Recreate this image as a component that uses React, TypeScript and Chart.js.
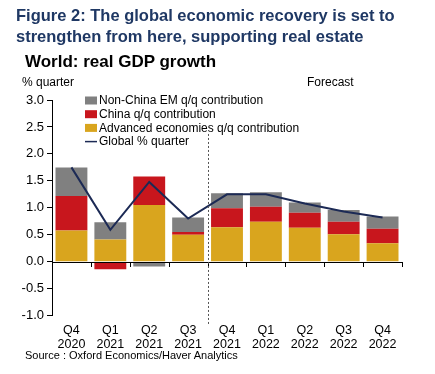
import React, { useEffect, useRef } from "react";
import { Chart, registerables } from "chart.js";

Chart.register(...registerables);

const categories: string[][] = [
  ["Q4", "2020"], ["Q1", "2021"], ["Q2", "2021"], ["Q3", "2021"], ["Q4", "2021"],
  ["Q1", "2022"], ["Q2", "2022"], ["Q3", "2022"], ["Q4", "2022"],
];
const advancedContribution = [0.58, 0.41, 1.05, 0.5, 0.64, 0.74, 0.63, 0.51, 0.34];
const chinaContribution = [0.64, -0.14, 0.53, 0.05, 0.35, 0.28, 0.28, 0.23, 0.27];
const nonChinaEmContribution = [0.53, 0.32, -0.09, 0.27, 0.28, 0.27, 0.19, 0.22, 0.23];
const globalGrowth = [1.75, 0.59, 1.48, 0.8, 1.25, 1.25, 1.08, 0.93, 0.82];
const forecastStartIndex = 4;

const FONT = "'Liberation Sans', Arial, sans-serif";
const GREY = "#808080";
const RED = "#c8161d";
const GOLD = "#d9a51e";
const NAVY = "#1c2a55";

const extrasPlugin = {
  id: "extras",
  afterDatasetsDraw(chart: any) {
    const { ctx, chartArea, scales } = chart;
    const xs = scales.x;
    const ys = scales.y;
    const y0 = ys.getPixelForValue(0);
    const n = categories.length;
    const step = (chartArea.right - chartArea.left) / n;
    ctx.save();
    // zero line
    ctx.strokeStyle = "#000";
    ctx.lineWidth = 1;
    ctx.beginPath();
    ctx.moveTo(chartArea.left, Math.round(y0) + 0.5);
    ctx.lineTo(chartArea.right, Math.round(y0) + 0.5);
    ctx.stroke();
    // category boundary ticks
    for (let k = 1; k <= n; k++) {
      const bx = Math.round(chartArea.left + k * step) + 0.5;
      ctx.beginPath();
      ctx.moveTo(bx, Math.round(y0));
      ctx.lineTo(bx, Math.round(y0) + 5);
      ctx.stroke();
    }
    // forecast divider
    const dx = Math.round((xs.getPixelForValue(forecastStartIndex - 1) + xs.getPixelForValue(forecastStartIndex)) / 2) + 0.5;
    ctx.strokeStyle = "#555";
    ctx.setLineDash([2, 2]);
    ctx.beginPath();
    ctx.moveTo(dx, ys.getPixelForValue(2.37));
    ctx.lineTo(dx, chartArea.bottom + 10);
    ctx.stroke();
    ctx.setLineDash([]);
    // legend
    const order = [2, 1, 0, 3];
    const lx = 85;
    const ly = 100.5;
    const gap = 13.7;
    ctx.font = `12px ${FONT}`;
    ctx.textBaseline = "middle";
    ctx.textAlign = "left";
    order.forEach((di, r) => {
      const ds = chart.data.datasets[di];
      const cy = ly + r * gap;
      if (ds.type === "line") {
        ctx.strokeStyle = ds.borderColor;
        ctx.lineWidth = 1.5;
        ctx.beginPath();
        ctx.moveTo(lx, cy);
        ctx.lineTo(lx + 12, cy);
        ctx.stroke();
      } else {
        ctx.fillStyle = ds.backgroundColor;
        ctx.fillRect(lx, cy - 4, 12, 8);
      }
      ctx.fillStyle = "#000";
      ctx.fillText(ds.label, lx + 14, cy + 0.5);
    });
    ctx.restore();
  },
};

export default function App() {
  const ref = useRef<HTMLCanvasElement>(null);
  useEffect(() => {
    document.body.style.margin = "0";
    const chart = new Chart(ref.current as HTMLCanvasElement, {
      type: "bar",
      data: {
        labels: categories,
        datasets: [
          { type: "bar", label: "Advanced economies q/q contribution", data: advancedContribution, backgroundColor: GOLD, order: 1 },
          { type: "bar", label: "China q/q contribution", data: chinaContribution, backgroundColor: RED, order: 1 },
          { type: "bar", label: "Non-China EM q/q contribution", data: nonChinaEmContribution, backgroundColor: GREY, order: 1 },
          { type: "line", label: "Global % quarter", data: globalGrowth, borderColor: NAVY, borderWidth: 2, pointRadius: 0, tension: 0, stack: "line", order: 0 } as any,
        ],
      },
      options: {
        animation: false,
        responsive: false,
        events: [],
        layout: { padding: { left: 0, right: 33, top: 100, bottom: 0 } },
        datasets: { bar: { barPercentage: 0.82, categoryPercentage: 1 } },
        plugins: { legend: { display: false }, tooltip: { enabled: false }, title: { display: false } },
        scales: {
          x: {
            stacked: true,
            grid: { display: false, drawTicks: false },
            border: { display: false },
            ticks: { font: { family: FONT, size: 12.5, lineHeight: 1.1 }, color: "#000", padding: 8, maxRotation: 0, autoSkip: false },
            afterFit: (s: any) => { s.height = 58.4; },
          },
          y: {
            stacked: true,
            min: -1,
            max: 3,
            ticks: { stepSize: 0.5, font: { family: FONT, size: 13 }, color: "#000", padding: 3, callback: (v: any) => Number(v).toFixed(1) },
            grid: { drawOnChartArea: false, drawTicks: true, tickLength: 5, color: "#000" },
            border: { display: true, color: "#000" },
            afterFit: (s: any) => { s.width = 52; },
          },
        },
      },
      plugins: [extrasPlugin],
    });
    return () => chart.destroy();
  }, []);

  const txt = (style: React.CSSProperties, content: string) => (
    <div style={{ position: "absolute", whiteSpace: "nowrap", fontFamily: FONT, ...style }}>{content}</div>
  );

  return (
    <div style={{ position: "relative", width: 435, height: 374, background: "#fff" }}>
      <canvas ref={ref} width={435} height={374} style={{ position: "absolute", left: 0, top: 0 }} />
      <div style={{ position: "absolute", left: 16, top: 5, fontFamily: FONT, fontWeight: "bold", fontSize: 16.5, lineHeight: "21px", color: "#1f3864", whiteSpace: "nowrap" }}>
        Figure 2: The global economic recovery is set to<br />strengthen from here, supporting real estate
      </div>
      {txt({ left: 25, top: 52, fontWeight: "bold", fontSize: 17, lineHeight: "19px", color: "#000" }, "World: real GDP growth")}
      {txt({ left: 22, top: 74, fontSize: 12, lineHeight: "16px", color: "#000" }, "% quarter")}
      {txt({ left: 307, top: 74, fontSize: 12, lineHeight: "16px", color: "#000" }, "Forecast")}
      {txt({ left: 25, top: 348, fontSize: 11, lineHeight: "15px", color: "#000" }, "Source : Oxford Economics/Haver Analytics")}
    </div>
  );
}
